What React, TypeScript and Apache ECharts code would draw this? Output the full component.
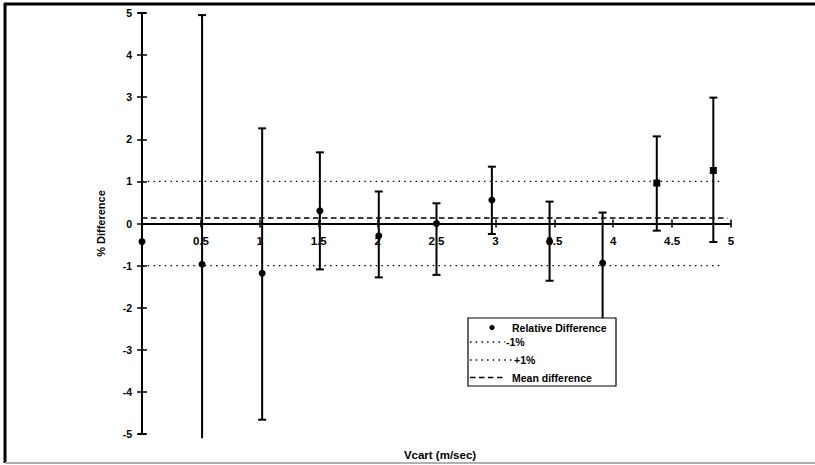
import React, { useEffect, useRef } from "react";
import * as echarts from "echarts";

const speeds = [0, 0.51, 1.02, 1.51, 2.01, 2.5, 2.97, 3.46, 3.91, 4.37, 4.85];
const relDiff = [-0.43, -0.97, -1.18, 0.3, -0.29, 0.0, 0.56, -0.43, -0.94, 0.96, 1.26];
const errHigh = [5.0, 4.95, 2.26, 1.69, 0.76, 0.48, 1.35, 0.52, 0.26, 2.07, 2.99];
const errLow = [-5.0, -5.1, -4.66, -1.09, -1.28, -1.22, -0.25, -1.36, -2.6, -0.17, -0.44];
const limitLow = -1;
const limitHigh = 1;
const meanDiff = 0.13;
const refLineStart = 0;
const refLineEnd = 4.92;
const meanLineEnd = 4.97;
const legendLabels = ["Relative Difference", "-1%", "+1%", "Mean difference"];
const xTitle = "Vcart (m/sec)";
const yTitle = "% Difference";

const FONT = '"Liberation Sans", Arial, Helvetica, sans-serif';
const GRID_TOP = 13;
const GRID_BOTTOM = 31;
const CHART_H = 465;
// the x axis sits at value 0, i.e. the middle of the symmetric y range
const X_AXIS_OFFSET = -(CHART_H - GRID_TOP - GRID_BOTTOM) / 2;

export default function App() {
  const ref = useRef<HTMLDivElement>(null);
  useEffect(() => {
    if (!ref.current) return;
    const chart = echarts.init(ref.current, undefined, { renderer: "svg" });
    const xBase = {
      type: "value" as const,
      min: 0,
      max: 5,
      interval: 0.5,
      position: "bottom" as const,
      offset: X_AXIS_OFFSET,
      splitLine: { show: false },
    };
    const yBase = {
      type: "value" as const,
      min: -5,
      max: 5,
      interval: 1,
      position: "left" as const,
      splitLine: { show: false },
    };
    const legendText = (text: string, x: number, y: number) => ({
      type: "text",
      x,
      y,
      z: 101,
      style: { text, fill: "#000", font: `bold 10.5px ${FONT}`, verticalAlign: "middle", align: "left" },
    });
    const legendLine = (x1: number, x2: number, y: number, dash: number[], w: number) => ({
      type: "line",
      z: 101,
      shape: { x1, y1: y, x2, y2: y },
      style: { stroke: "#000", lineWidth: w, lineDash: dash },
    });
    const option: any = {
      animation: false,
      backgroundColor: "#fff",
      grid: { left: 142, right: 84, top: GRID_TOP, bottom: GRID_BOTTOM },
      xAxis: [
        {
          ...xBase,
          axisLine: { onZero: false, lineStyle: { color: "#000", width: 2 } },
          axisTick: { show: true, inside: false, length: 4, lineStyle: { color: "#000", width: 1.5 } },
          axisLabel: {
            color: "#000",
            fontWeight: "bold",
            fontSize: 11.5,
            fontFamily: FONT,
            margin: 11,
            formatter: (v: number) => (v === 0 ? "" : String(v)),
          },
        },
        {
          ...xBase,
          axisLine: { show: false, onZero: false },
          axisTick: { show: true, inside: true, length: 4, lineStyle: { color: "#000", width: 1.5 } },
          axisLabel: { show: false },
        },
      ],
      yAxis: [
        {
          ...yBase,
          axisLine: { onZero: false, lineStyle: { color: "#000", width: 2 } },
          axisTick: { show: true, inside: false, length: 5, lineStyle: { color: "#000", width: 1.5 } },
          axisLabel: { color: "#000", fontWeight: "bold", fontSize: 10.5, fontFamily: FONT, margin: 10 },
          name: yTitle,
          nameLocation: "middle",
          nameGap: 36,
          nameTextStyle: { color: "#000", fontWeight: "bold", fontSize: 11, fontFamily: FONT },
        },
        {
          ...yBase,
          axisLine: { show: false, onZero: false },
          axisTick: { show: true, inside: true, length: 5, lineStyle: { color: "#000", width: 1.5 } },
          axisLabel: { show: false },
        },
      ],
      series: [
        {
          name: legendLabels[1],
          type: "line",
          data: [
            [refLineStart, limitLow],
            [refLineEnd, limitLow],
          ],
          showSymbol: false,
          lineStyle: { color: "#000", width: 1.3, type: [1.5, 4.2] },
          z: 2,
        },
        {
          name: legendLabels[2],
          type: "line",
          data: [
            [refLineStart, limitHigh],
            [refLineEnd, limitHigh],
          ],
          showSymbol: false,
          lineStyle: { color: "#000", width: 1.3, type: [1.5, 4.2] },
          z: 2,
        },
        {
          name: legendLabels[3],
          type: "line",
          data: [
            [refLineStart, meanDiff],
            [meanLineEnd, meanDiff],
          ],
          showSymbol: false,
          lineStyle: { color: "#000", width: 1.6, type: [5.5, 3.5] },
          z: 2,
        },
        {
          name: "error",
          type: "custom",
          encode: { x: 0, y: [1, 2] },
          data: speeds.map((s, i) => [s, errHigh[i], errLow[i]]),
          renderItem: (params: any, api: any) => {
            const x = api.value(0);
            const hi = api.value(1);
            const lo = api.value(2);
            const top = api.coord([x, hi]);
            const bot = api.coord([x, lo]);
            const w = 4;
            const children: any[] = [
              {
                type: "line",
                shape: { x1: top[0], y1: top[1], x2: bot[0], y2: bot[1] },
                style: { stroke: "#000", lineWidth: 2 },
              },
            ];
            if (hi <= 5) {
              children.push({
                type: "line",
                shape: { x1: top[0] - w, y1: top[1], x2: top[0] + w, y2: top[1] },
                style: { stroke: "#000", lineWidth: 2 },
              });
            }
            if (lo >= -5) {
              children.push({
                type: "line",
                shape: { x1: bot[0] - w, y1: bot[1], x2: bot[0] + w, y2: bot[1] },
                style: { stroke: "#000", lineWidth: 2 },
              });
            }
            return { type: "group", children };
          },
          z: 3,
        },
        {
          name: legendLabels[0],
          type: "scatter",
          data: speeds.map((s, i) => [s, relDiff[i]]),
          symbol: (_v: any, p: any) => (p.dataIndex >= 9 ? "rect" : "circle"),
          symbolSize: 7,
          itemStyle: { color: "#000", opacity: 1 },
          z: 4,
        },
      ],
      graphic: [
        // outer frame
        { type: "line", shape: { x1: 4, y1: 4, x2: 815, y2: 4 }, style: { stroke: "#000", lineWidth: 3 } },
        { type: "line", shape: { x1: 5, y1: 3, x2: 5, y2: 463 }, style: { stroke: "#000", lineWidth: 3 } },
        { type: "line", shape: { x1: 5, y1: 463, x2: 815, y2: 463 }, style: { stroke: "#b0b0b0", lineWidth: 2 } },
        // x axis title
        {
          type: "text",
          x: 440,
          y: 455,
          style: {
            text: xTitle,
            fill: "#000",
            font: `bold 11.5px ${FONT}`,
            align: "center",
            verticalAlign: "middle",
          },
        },
        // legend
        {
          type: "rect",
          z: 100,
          shape: { x: 468, y: 318, width: 148, height: 68 },
          style: { fill: "#fff", stroke: "#000", lineWidth: 1.2 },
        },
        { type: "circle", z: 101, shape: { cx: 492, cy: 327.5, r: 2.6 }, style: { fill: "#000" } },
        legendText(legendLabels[0], 512, 327.5),
        legendLine(470, 505, 342, [1.5, 4.2], 1.3),
        legendText(legendLabels[1], 506, 342),
        legendLine(470, 512, 360, [1.5, 4.2], 1.3),
        legendText(legendLabels[2], 514, 360),
        legendLine(470, 506, 377.5, [5.5, 3.5], 1.6),
        legendText(legendLabels[3], 512, 377.5),
      ],
    };
    chart.setOption(option);
    return () => chart.dispose();
  }, []);
  return (
    <div
      ref={ref}
      style={{ position: "absolute", left: 0, top: 0, width: 815, height: 465, background: "#fff" }}
    />
  );
}
